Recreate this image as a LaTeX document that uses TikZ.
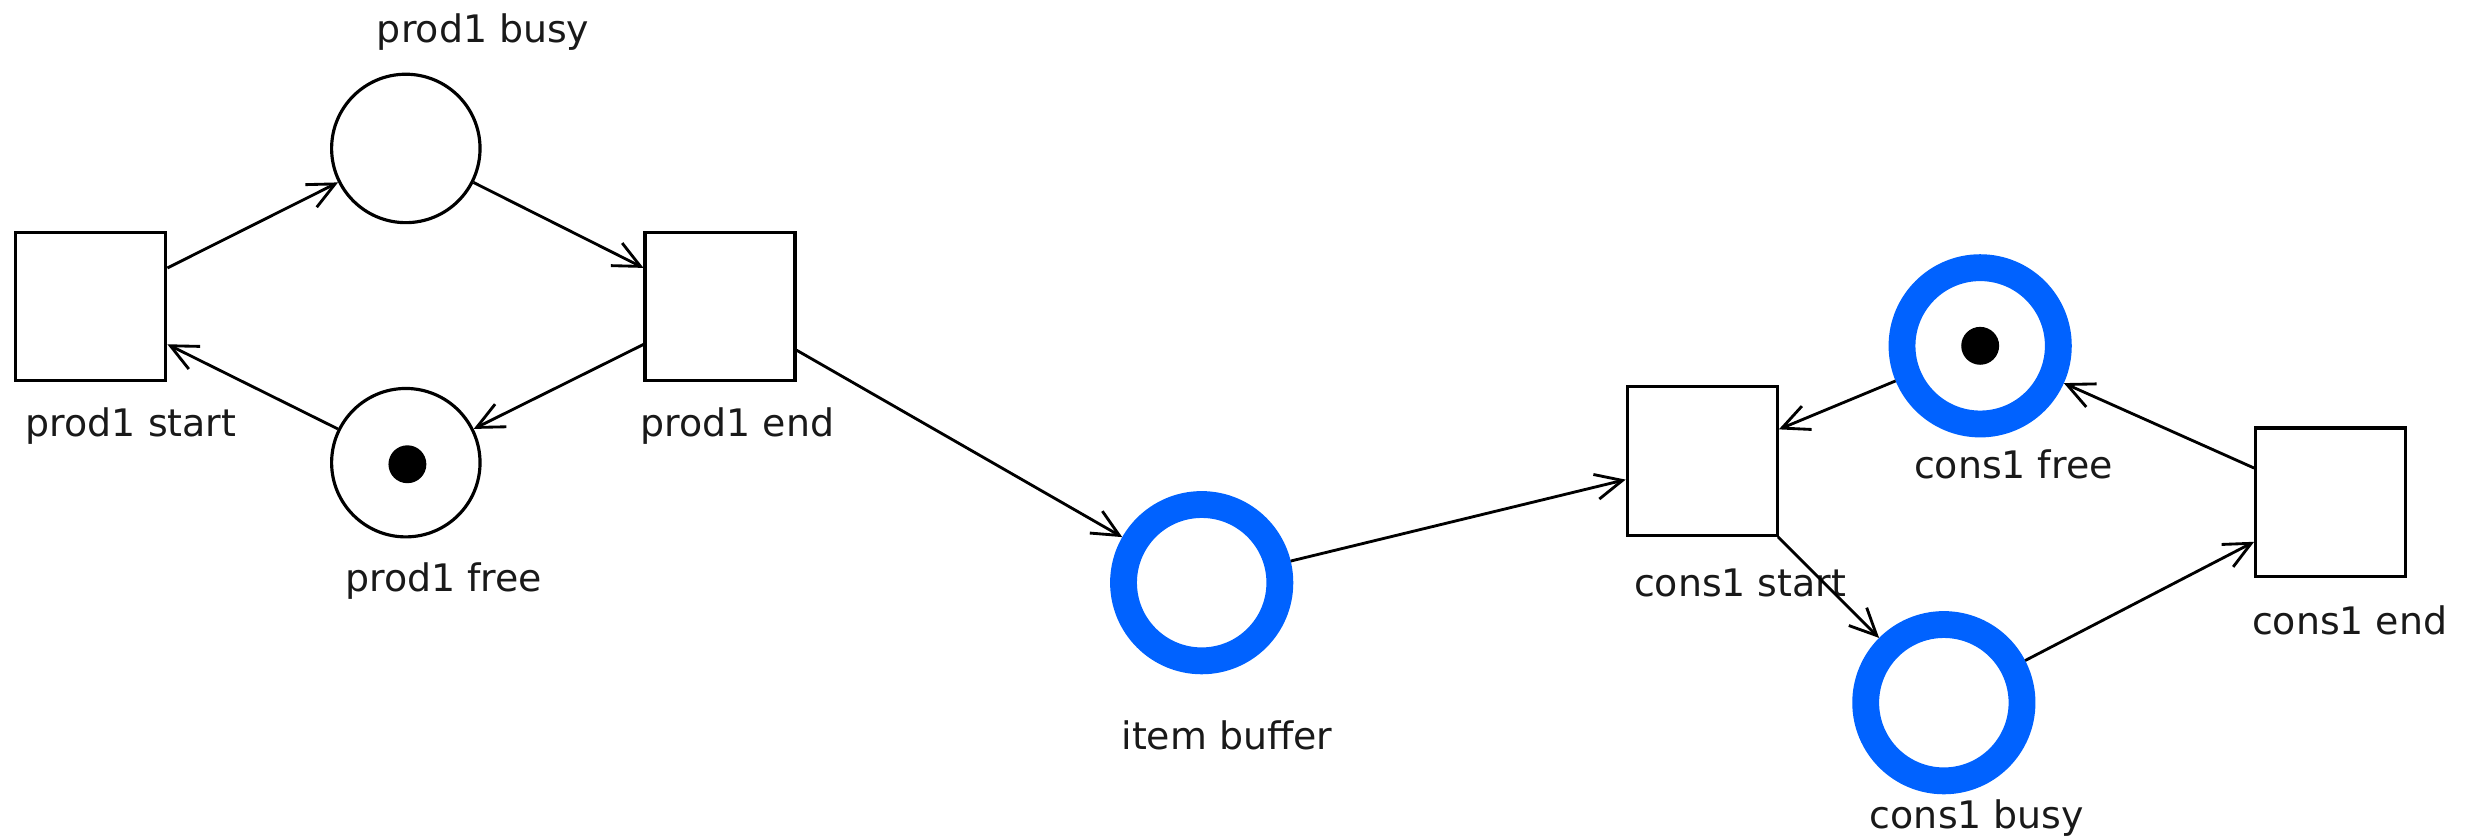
\documentclass[tikz,border=0pt]{standalone}
\usepackage{fontspec}
\setmainfont{DejaVu Sans}
\usetikzlibrary{arrows.meta}
\definecolor{ringblue}{RGB}{0,98,255}
\begin{document}
\begin{tikzpicture}[x=1pt,y=-1pt,
 trans/.style={draw, line width=2pt, minimum width=95pt, minimum height=94pt, inner sep=0pt},
 place/.style={circle, draw, line width=2pt, minimum size=94pt, inner sep=0pt},
 bplace/.style={circle, draw=ringblue, line width=17pt, minimum size=99pt, inner sep=0pt},
 tok/.style={circle, fill=black, minimum size=24pt, inner sep=0pt},
 lbl/.style={font=\fontsize{24}{28}\selectfont, text=black!90, inner sep=0pt},
 arc/.style={line width=1.8pt, -{Straight Barb[length=17pt,width=16pt,line width=1.8pt]}}]
\useasboundingbox (0,0) rectangle (1568,530);
% transitions
\node[trans] (ps) at (57.5,194) {};
\node[trans] (pe) at (456,194) {};
\node[trans] (cs) at (1078,292) {};
\node[trans] (ce) at (1476,318) {};
% places
\node[place] (pb) at (257,94) {};
\node[place] (pf) at (257,293) {};
\node[tok] (pft) at (258,294) {};
\node[bplace] (ib) at (761,369) {};
\node[bplace] (cf) at (1254,219) {};
\node[tok] (cft) at (1254,219) {};
\node[bplace] (cb) at (1231,445) {};
% labels
\node[lbl] (lpb) at (306,20) {prod1 busy};
\node[lbl] (lps) at (83,270) {prod1 start};
\node[lbl] (lpe) at (467,270) {prod1 end};
\node[lbl] (lpf) at (281,368) {prod1 free};
\node[lbl] (lib) at (777,466) {item buffer};
\node[lbl] (lcs) at (1102,369) {cons1 start};
\node[lbl] (lcf) at (1275,294) {cons1 free};
\node[lbl] (lce) at (1488,393) {cons1 end};
\node[lbl] (lcb) at (1252,518) {cons1 busy};
% arcs
\draw[arc] (ps) -- (pb);
\draw[arc] (pb) -- (pe);
\draw[arc] (pe) -- (pf);
\draw[arc] (pf) -- (ps);
\draw[arc] (pe) -- (ib);
\draw[arc] (ib) -- (cs);
\draw[arc] (cf) -- (cs);
\draw[arc] (cs) -- (cb);
\draw[arc] (cb) -- (ce);
\draw[arc] (ce) -- (cf);
\end{tikzpicture}
\end{document}
